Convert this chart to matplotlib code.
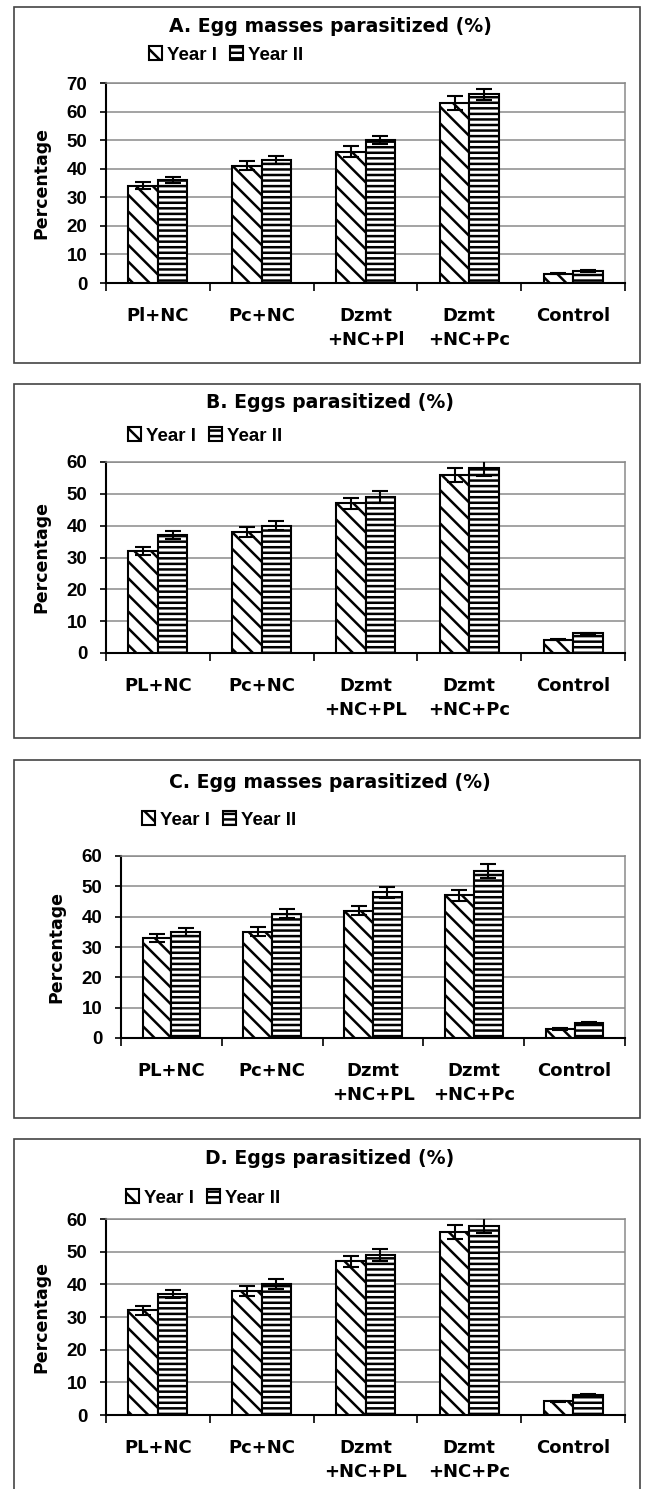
import numpy as np
import matplotlib
matplotlib.use("Agg")
import matplotlib.pyplot as plt
from matplotlib.patches import Rectangle

W, H = 646, 1489

cats_A = ["Pl+NC", "Pc+NC", "Dzmt\n+NC+Pl", "Dzmt\n+NC+Pc", "Control"]
cats_BCD = ["PL+NC", "Pc+NC", "Dzmt\n+NC+PL", "Dzmt\n+NC+Pc", "Control"]
series = ["Year I", "Year II"]

# A. Egg masses parasitized (%)
A_y1 = [34, 41, 46, 63, 3.3]
A_y2 = [36, 43, 50, 66, 4.2]
A_e1 = [1.2, 1.6, 1.8, 2.5, 0.3]
A_e2 = [1.0, 1.3, 1.5, 2.0, 0.3]
# B. Eggs parasitized (%)
B_y1 = [32, 38, 47, 56, 4.2]
B_y2 = [37, 40, 49, 58, 6.2]
B_e1 = [1.3, 1.5, 1.8, 2.2, 0.2]
B_e2 = [1.3, 1.5, 1.9, 2.3, 0.2]
# C. Egg masses parasitized (%)
C_y1 = [33, 35, 42, 47, 3.0]
C_y2 = [35, 41, 48, 55, 5.0]
C_e1 = [1.2, 1.5, 1.6, 1.8, 0.2]
C_e2 = [1.4, 1.5, 1.8, 2.2, 0.2]
# D. Eggs parasitized (%)
D_y1 = [32, 38, 47, 56, 4.2]
D_y2 = [37, 40, 49, 58, 6.2]
D_e1 = [1.3, 1.5, 1.8, 2.2, 0.2]
D_e2 = [1.3, 1.5, 1.9, 2.3, 0.2]

plt.rcParams["font.family"] = "DejaVu Sans"
plt.rcParams["font.weight"] = "bold"
plt.rcParams["hatch.linewidth"] = 1.8

fig = plt.figure(figsize=(W / 100, H / 100), dpi=100)

panels = [
    # title, cats, y1, y2, e1, e2, ymax, box(top,bottom), title_y, legend(x,y), axes(x0,x1,top,bottom), ylabel(x,y)
    ("A. Egg masses parasitized (%)", cats_A, A_y1, A_y2, A_e1, A_e2, 70,
     (7, 363), 27, (149, 55), (106, 625, 83, 283), (41, 183)),
    ("B. Eggs parasitized (%)", cats_BCD, B_y1, B_y2, B_e1, B_e2, 60,
     (384, 738), 403, (128, 436), (106, 625, 462, 653), (41, 557)),
    ("C. Egg masses parasitized (%)", cats_BCD, C_y1, C_y2, C_e1, C_e2, 60,
     (760, 1118), 782, (142, 820), (121, 625, 856, 1038), (56, 947)),
    ("D. Eggs parasitized (%)", cats_BCD, D_y1, D_y2, D_e1, D_e2, 60,
     (1139, 1520), 1158, (126, 1198), (106, 625, 1219, 1415), (41, 1317)),
]

w = 0.285
for title, cats, y1, y2, e1, e2, ymax, box, ty, leg, axr, yl in panels:
    # outer frame
    fig.add_artist(Rectangle((14 / W, 1 - box[1] / H), (640 - 14) / W, (box[1] - box[0]) / H,
                             transform=fig.transFigure, fill=False, ec="#444444", lw=1.2))
    x0, x1, top, bot = axr
    ax = fig.add_axes([x0 / W, 1 - bot / H, (x1 - x0) / W, (bot - top) / H])
    x = np.arange(len(cats))
    ekw = dict(ecolor="black", elinewidth=1.5, capthick=1.5)
    b1 = ax.bar(x - w / 2, y1, w, yerr=e1, capsize=5.5, color="white", edgecolor="black",
                linewidth=1.5, hatch="\\\\", error_kw=ekw, zorder=3)
    b2 = ax.bar(x + w / 2, y2, w, yerr=e2, capsize=5.5, color="white", edgecolor="black",
                linewidth=1.5, hatch="---", error_kw=ekw, zorder=3)
    ax.set_xlim(-0.5, len(cats) - 0.5)
    ax.set_ylim(0, ymax)
    ax.set_yticks(np.arange(0, ymax + 1, 10))
    ax.yaxis.grid(True, color="#8a8a8a", lw=1.1, zorder=0)
    ax.set_axisbelow(True)
    for s in ["top", "right"]:
        ax.spines[s].set_color("#8a8a8a")
        ax.spines[s].set_linewidth(1.1)
    for s in ["left", "bottom"]:
        ax.spines[s].set_color("black")
        ax.spines[s].set_linewidth(1.5)
    ax.set_xticks(x)
    ax.set_xticklabels(cats, fontsize=13, fontweight="bold", linespacing=1.45)
    ax.set_xticks(np.arange(-0.5, len(cats)), minor=True)
    ax.tick_params(axis="x", which="major", length=0, pad=17)
    ax.tick_params(axis="x", which="minor", length=6, width=1.2, direction="out")
    ax.tick_params(axis="y", length=4.5, width=1.2, pad=9)
    for lab in ax.get_yticklabels():
        lab.set_fontfamily("Liberation Sans")
        lab.set_fontsize(13.5)
        lab.set_fontweight("bold")
    fig.text(330 / W, 1 - ty / H, title, ha="center", va="center", fontsize=13.6, fontweight="bold")
    fig.text(yl[0] / W, 1 - yl[1] / H, "Percentage", rotation=90, ha="center", va="center",
             fontsize=12.5, fontweight="bold")
    ax.legend([b1, b2], series, loc="center left", bbox_to_anchor=(leg[0] / W, 1 - leg[1] / H),
              bbox_transform=fig.transFigure, ncol=2, frameon=False, handlelength=0.7,
              handleheight=0.7, handletextpad=0.25, columnspacing=0.7, borderpad=0,
              borderaxespad=0, prop=dict(family="Liberation Sans", weight="bold", size=13.5))

fig.savefig("out.png", dpi=100)
